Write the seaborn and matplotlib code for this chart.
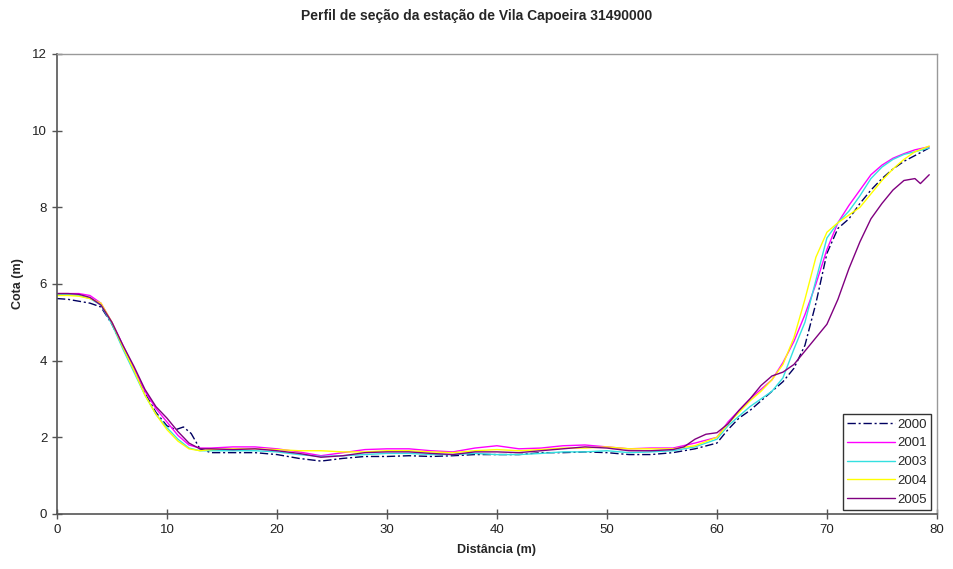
import pandas as pd
import seaborn as sns
import matplotlib.pyplot as plt

# DADOS (distancia em m, cota em m)
x_2000 = [0, 1, 2, 3, 4, 5, 6, 7, 8, 9, 10, 10.8, 11.5, 12.2, 13, 14, 16, 18, 20, 22, 24, 26, 28, 30,
          32, 34, 36, 38, 40, 42, 44, 46, 48, 50, 52, 54, 56, 58, 60, 61, 62, 63, 64, 65, 66, 67, 68,
          69, 70, 71, 72, 73, 74, 75, 76, 77, 78, 79.3]
y_2000 = [5.62, 5.6, 5.55, 5.5, 5.4, 4.95, 4.35, 3.75, 3.15, 2.65, 2.3, 2.2, 2.27, 2.1, 1.7, 1.6, 1.6,
          1.6, 1.55, 1.45, 1.38, 1.45, 1.5, 1.5, 1.52, 1.5, 1.52, 1.55, 1.55, 1.55, 1.6, 1.6, 1.62, 1.6,
          1.55, 1.55, 1.6, 1.7, 1.85, 2.2, 2.5, 2.7, 2.95, 3.2, 3.45, 3.8, 4.4, 5.5, 6.8, 7.45, 7.7,
          8.1, 8.45, 8.75, 9.0, 9.2, 9.35, 9.55]

x_2001 = [0, 1, 2, 3, 4, 5, 6, 7, 8, 9, 10, 11, 12, 13, 14, 16, 18, 20, 22, 24, 26, 28, 30, 32, 34,
          36, 38, 40, 42, 44, 46, 48, 50, 52, 54, 56, 58, 60, 61, 62, 63, 64, 65, 66, 67, 68, 69, 70,
          71, 72, 73, 74, 75, 76, 77, 78, 79.3]
y_2001 = [5.75, 5.75, 5.75, 5.7, 5.5, 5.0, 4.4, 3.8, 3.2, 2.75, 2.4, 2.05, 1.8, 1.72, 1.72, 1.75,
          1.75, 1.7, 1.62, 1.52, 1.6, 1.68, 1.7, 1.7, 1.65, 1.62, 1.72, 1.78, 1.7, 1.72, 1.78, 1.8,
          1.75, 1.7, 1.72, 1.72, 1.85, 2.0, 2.4, 2.7, 3.0, 3.25, 3.5, 3.95, 4.5, 5.2, 6.0, 6.9, 7.6,
          8.05, 8.45, 8.85, 9.1, 9.28, 9.4, 9.5, 9.58]

x_2003 = [0, 1, 2, 3, 4, 5, 6, 7, 8, 9, 10, 11, 12, 13, 14, 16, 18, 20, 22, 24, 26, 28, 30, 32, 34,
          36, 38, 40, 42, 44, 46, 48, 50, 52, 54, 56, 58, 60, 61, 62, 63, 64, 65, 66, 67, 68, 69, 70,
          71, 72, 73, 74, 75, 76, 77, 78, 79.3]
y_2003 = [5.72, 5.72, 5.7, 5.62, 5.45, 4.95, 4.3, 3.7, 3.1, 2.6, 2.25, 1.95, 1.72, 1.65, 1.65, 1.65,
          1.65, 1.62, 1.55, 1.5, 1.52, 1.55, 1.58, 1.58, 1.55, 1.55, 1.58, 1.55, 1.55, 1.58, 1.62,
          1.62, 1.65, 1.6, 1.62, 1.65, 1.75, 1.95, 2.3, 2.55, 2.8, 3.0, 3.2, 3.55, 4.3, 5.0, 6.1, 7.2,
          7.6, 7.9, 8.3, 8.75, 9.05, 9.25, 9.38, 9.45, 9.55]

x_2004 = [0, 1, 2, 3, 4, 5, 6, 7, 8, 9, 10, 11, 12, 13, 14, 16, 18, 20, 22, 24, 26, 28, 30, 32, 34,
          36, 38, 40, 42, 44, 46, 48, 50, 52, 54, 56, 58, 60, 61, 62, 63, 64, 65, 66, 67, 68, 69, 70,
          71, 72, 73, 74, 75, 76, 77, 78, 79.3]
y_2004 = [5.7, 5.7, 5.68, 5.62, 5.5, 5.0, 4.35, 3.75, 3.1, 2.6, 2.2, 1.9, 1.7, 1.65, 1.68, 1.7,
          1.7, 1.68, 1.65, 1.65, 1.62, 1.62, 1.65, 1.65, 1.62, 1.6, 1.65, 1.68, 1.65, 1.68, 1.72,
          1.72, 1.75, 1.7, 1.7, 1.7, 1.78, 2.0, 2.35, 2.65, 2.95, 3.2, 3.5, 3.9, 4.6, 5.6, 6.7, 7.35,
          7.6, 7.8, 8.0, 8.35, 8.7, 9.0, 9.25, 9.45, 9.6]

x_2005 = [0, 1, 2, 3, 4, 5, 6, 7, 8, 9, 10, 11, 12, 13, 14, 16, 18, 20, 22, 24, 26, 28, 30, 32, 34,
          36, 38, 40, 42, 44, 46, 48, 50, 52, 54, 56, 57, 58, 59, 60, 61, 62, 63, 64, 65, 66, 67, 68,
          69, 70, 71, 72, 73, 74, 75, 76, 77, 78, 78.5, 79.3]
y_2005 = [5.75, 5.75, 5.73, 5.65, 5.45, 5.0, 4.4, 3.85, 3.25, 2.8, 2.5, 2.15, 1.85, 1.7, 1.7, 1.68,
          1.7, 1.65, 1.58, 1.48, 1.52, 1.6, 1.62, 1.62, 1.58, 1.55, 1.62, 1.62, 1.6, 1.65, 1.7, 1.75,
          1.72, 1.65, 1.65, 1.68, 1.75, 1.95, 2.08, 2.12, 2.35, 2.7, 3.0, 3.35, 3.6, 3.7, 3.9, 4.25,
          4.6, 4.95, 5.6, 6.4, 7.1, 7.7, 8.1, 8.45, 8.7, 8.75, 8.62, 8.85]

anos = ['2000', '2001', '2003', '2004', '2005']
cores = ['#000060', '#ff00ff', '#33e0e0', '#ffff00', '#800080']
series = [(x_2000, y_2000), (x_2001, y_2001), (x_2003, y_2003), (x_2004, y_2004), (x_2005, y_2005)]

sns.set_style("white")
plt.rcParams['font.family'] = ['Liberation Sans', 'DejaVu Sans']

fig = plt.figure(figsize=(9.54, 5.69), dpi=100)
ax = fig.add_axes([0.0597, 0.0967, 0.9224, 0.8084])

for ano, cor, (xs, ys) in zip(anos, cores, series):
    df = pd.DataFrame({'dist': xs, 'cota': ys})
    sns.lineplot(data=df, x='dist', y='cota', ax=ax, color=cor, linewidth=1.0,
                 label=ano, sort=False, estimator=None)

ax.lines[0].set_dashes([6, 2, 1.5, 2])

ax.set_xlim(0, 80)
ax.set_ylim(0, 12)
ax.set_xticks(range(0, 81, 10))
ax.set_yticks(range(0, 13, 2))
ax.tick_params(axis='both', direction='inout', length=7, width=1, color='#555555',
               labelsize=9.5, labelcolor='#222222', left=True, bottom=True)

for lado in ['left', 'bottom']:
    ax.spines[lado].set_color('#555555')
    ax.spines[lado].set_linewidth(1.2)
for lado in ['top', 'right']:
    ax.spines[lado].set_color('#999999')
    ax.spines[lado].set_linewidth(1.0)

ax.set_xlabel('Distância (m)', fontsize=9, fontweight='bold', labelpad=6)
ax.set_ylabel('Cota (m)', fontsize=9, fontweight='bold', labelpad=6)
fig.suptitle('Perfil de seção da estação de Vila Capoeira 31490000', fontsize=10,
             fontweight='bold', y=0.985)

leg = ax.legend(loc='lower right', fontsize=9.5, frameon=True, fancybox=False,
                handlelength=3.6, borderpad=0.3, labelspacing=0.5, handletextpad=0.2,
                borderaxespad=0, bbox_to_anchor=(0.993, 0.009))
leg.get_frame().set_edgecolor('black')
leg.get_frame().set_linewidth(1.0)

fig.savefig('out.png', dpi=100)
